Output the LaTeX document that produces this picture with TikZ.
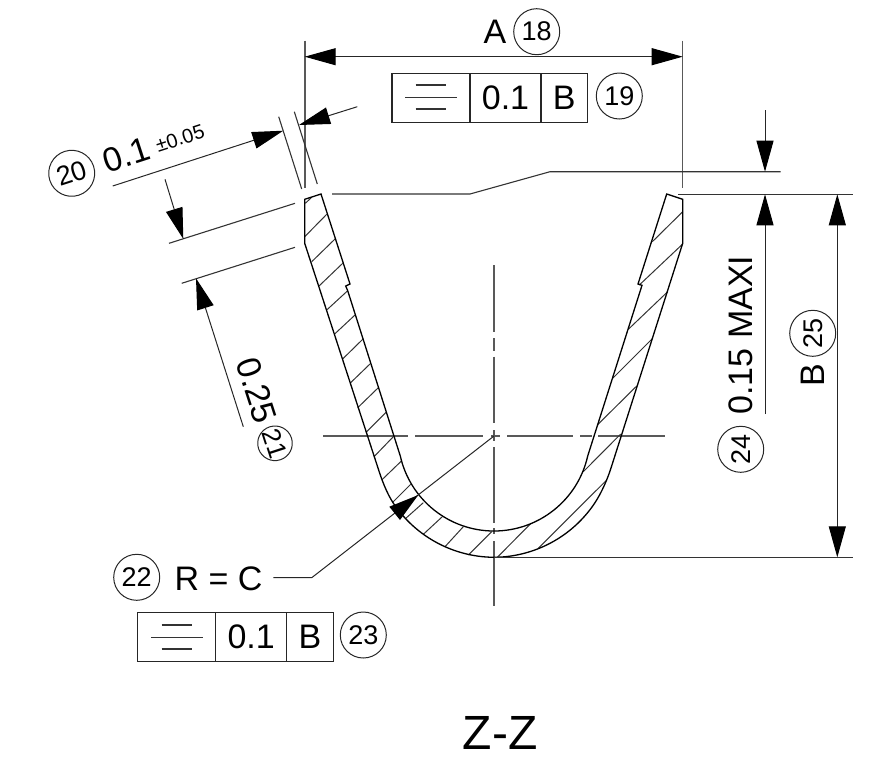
\documentclass[tikz,border=0pt]{standalone}
\usepackage{fontspec}
\setmainfont{Liberation Sans}
\usetikzlibrary{arrows.meta}
\newcommand{\fsz}[1]{\fontsize{#1}{#1}\selectfont}
\definecolor{linegray}{gray}{0.2}
\tikzset{
  x=1pt,y=-1pt,
  profile/.style={draw=black,line width=1.3pt,line join=miter},
  hatch/.style={draw=linegray,line width=1pt},
  thinline/.style={draw=linegray,line width=1.1pt},
  extline/.style={draw=gray!70!black,line width=1.3pt},
  centerline/.style={draw=gray!70!black,line width=1.6pt},
  dimline/.style={draw=black!85,line width=1pt},
  dimtip/.tip={Triangle[length=31pt,width=17pt,color=black]},
  oneend/.style={-{dimtip}},
  twoends/.style={{dimtip}-{dimtip}},
  balloon/.style={circle,draw=black!85,line width=1pt,minimum size=46pt,inner sep=0pt,font=\fsz{27}},
  txt/.style={inner sep=0pt,font=\fsz{34}},
  cell/.style={rectangle,draw=black!85,line width=1.1pt,inner sep=0pt,font=\fsz{34}},
}
\begin{document}
\begin{tikzpicture}
\useasboundingbox (0,0) rectangle (893,764);
% centre lines
\draw[centerline] (494,265)--(494,331.7) (494,338.3)--(494,350.7) (494,356.7)--(494,423.3) (494,430)--(494,441)
  (494,447)--(494,523) (494,528)--(494,534) (494,541)--(494,606);
\draw[centerline] (323.3,436)--(408.3,436) (415,436)--(483,436) (491,436)--(500,436) (507,436)--(573.3,436) (580,436)--(591.7,436) (598,436)--(665,436);
% hatching
\draw[hatch]
 (305.3,203.3)--(311.7,197.3)
 (304.7,236.7)--(326.7,214.3)
 (311.7,261.7)--(335,239)
 (319,286)--(342.7,263.3)
 (326.7,310)--(347.7,290.7)
 (334.3,334.3)--(355,315)
 (342.3,359.3)--(362.7,339.3)
 (350,383.3)--(370.7,363.3)
 (357.7,407.7)--(378.3,387.7)
 (366,432.3)--(386,412.3)
 (374,456.7)--(393.3,436.7)
 (381.7,480)--(401.7,460.7)
 (392.3,502.7)--(410.7,484.3)
 (405,519)--(423.3,502.7)
 (423.3,534.3)--(442.3,516.7)
 (445,546.7)--(463.3,526.7)
 (468.3,555)--(491.7,531.7)
 (497.3,557.3)--(531,523.3)
 (538.3,548.3)--(606.7,480)
 (583.3,471.7)--(620.7,434)
 (597.3,425)--(636.7,386)
 (612.7,378.3)--(652.7,338.3)
 (628.3,329.3)--(667.7,291.7)
 (639.3,285)--(682.7,244)
 (652.3,241.7)--(682.7,211.7);
% profile
\draw[profile] (304.7,199.3)--(321,194)--(350,284)--(345.7,286)--(347.7,290.7)--(400.3,456)
  .. controls (410.1,499.8) and (449.1,531) .. (494,531)
  .. controls (538.9,531) and (577.9,499.8) .. (587.7,456)
  --(642,285.3)--(638,284)--(666.7,194)--(682.7,199.3)--(682.7,243.3)--(611,468)
  .. controls (607.5,479) and (601.5,493) .. (594.3,503.7)
  .. controls (571.8,537) and (534.2,557) .. (494,557.3)
  .. controls (453.8,557) and (416.2,537) .. (393.7,503.7)
  .. controls (386.5,493) and (381.5,479) .. (378,468)
  --(304.7,243.3)--cycle;
% coordinates
\coordinate (Atip1) at (304.7,56.7);
\coordinate (Atip2) at (682.7,56.7);
\coordinate (Bt) at (837.3,194.3);
\coordinate (Bb) at (837.3,557.3);
\coordinate (Ct) at (765,110);
\coordinate (Ctip) at (765,171.7);
\coordinate (Dtip) at (765,194.3);
\coordinate (Db) at (765,414);
% extension lines
\draw[extline] (304.9,40.7)--(304.9,188);
\draw[extline] (682.7,40.7)--(682.7,188);
\draw[thinline] (332,194)--(470,194)--(550,171.7)--(780.7,171.7);
\draw[thinline] (678,194.3)--(852.7,194.3);
\draw[thinline] (494,557.3)--(852.7,557.3);
\draw[thinline] (278.7,116.7)--(301.7,189);
\draw[thinline] (294.3,111.7)--(317.3,184);
\draw[thinline] (169,243.3)--(295,203.3);
\draw[thinline] (181.7,283.3)--(295,247.3);
% dimension lines
\draw[dimline,twoends] (Atip1)--(Atip2);
\draw[dimline,twoends] (Bt)--(Bb);
\draw[dimline,oneend] (Ct)--(Ctip);
\draw[dimline,oneend] (Db)--(Dtip);
\coordinate (e1) at (112.7,186); \coordinate (e1t) at (283.3,130.7);
\coordinate (e2) at (357.3,106.7); \coordinate (e2t) at (299,125);
\coordinate (e3) at (165,179.3); \coordinate (e3t) at (183.3,239);
\coordinate (e4) at (243.3,426.7); \coordinate (e4t) at (196,278.3);
\draw[dimline,oneend] (e1)--(e1t);
\draw[dimline,oneend] (e2)--(e2t);
\draw[dimline,oneend] (e3)--(e3t);
\draw[dimline,oneend] (e4)--(e4t);
% texts and balloons
\node[txt] (A) at (495,32) {A};
\node[balloon] (b18) at (536.7,31.7) {18};
\node[balloon] (b19) at (619.3,96) {19};
\node[balloon,rotate=18] (b20) at (71.7,173.3) {20};
\node[txt,rotate=18] (v01) at (126.7,155) {0.1};
\node[txt,rotate=18,font=\fsz{20}] (tol) at (180,138.3) {±0.05};
\node[txt,rotate=-72] (v025) at (256.7,390) {0.25};
\node[balloon,rotate=-72,minimum size=34.6pt,font=\fsz{26}] (b21) at (275,443.3) {21};
\node[txt] (rc) at (218.5,578.5) {R = C};
\node[balloon] (b22) at (136.7,577.3) {22};
\node[balloon] (b23) at (363.3,635) {23};
\node[txt,rotate=90] (maxi) at (740.7,335) {0.15 MAXI};
\node[balloon,rotate=90] (b24) at (740.7,449.3) {24};
\node[txt,rotate=90] (B) at (812.7,375) {B};
\node[balloon,rotate=90] (b25) at (812.7,333.3) {25};
\node[inner sep=0pt,font=\fsz{48}] (zz) at (500,733) {Z-Z};
% leader
\coordinate (kink) at (311.7,577.7);
\coordinate (lead0) at (273.3,577.7);
\coordinate (cc) at (494,436);
\draw[dimline] (lead0)--(kink)--(cc);
\fill[black] (418.3,495)--(389.3,506.7)--(400,520)--cycle;
% tolerance frame 1
\node[cell,minimum width=78pt,minimum height=49.4pt] (f1a) at (431,98) {};
\node[cell,minimum width=71pt,minimum height=49.4pt] (f1b) at (505.5,98) {0.1};
\node[cell,minimum width=46.3pt,minimum height=49.4pt] (f1c) at (564.2,98) {B};
\draw[thinline] (415.7,85)--(446,85) (405,97.3)--(456.7,97.3) (415.7,109)--(446,109);
% tolerance frame 2
\node[cell,minimum width=78pt,minimum height=49.4pt] (f2a) at (176.7,637) {};
\node[cell,minimum width=71pt,minimum height=49.4pt] (f2b) at (251.2,637) {0.1};
\node[cell,minimum width=46.6pt,minimum height=49.4pt] (f2c) at (310,637) {B};
\draw[thinline] (161.7,625)--(191.7,625) (151,637.3)--(202.7,637.3) (161.7,649)--(191.7,649);
\end{tikzpicture}
\end{document}
